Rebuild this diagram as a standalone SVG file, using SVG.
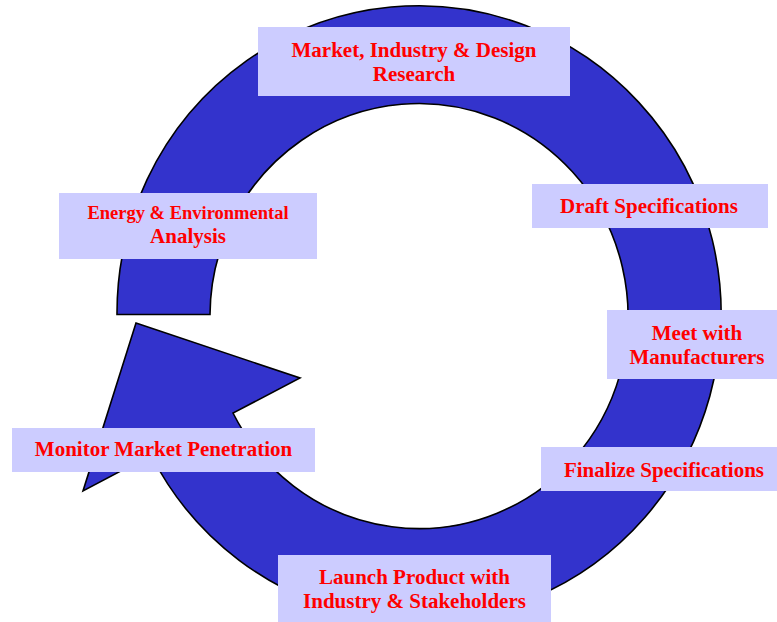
<svg xmlns="http://www.w3.org/2000/svg" width="777" height="622" viewBox="0 0 777 622">
<style>
.box{fill:#CCCCFF;stroke:none}
.t{font-family:"Liberation Serif","Times New Roman",serif;font-weight:bold;font-size:21px;fill:#FF0000;text-anchor:middle}
.ring{fill:#3333CC;stroke:#000000;stroke-width:1.6;stroke-linejoin:miter}
</style>
<rect width="777" height="622" fill="#FFFFFF"/>
<g id="connectors">
<path class="ring" d="M117,314.5 A302,307.5 0 1 1 151,455 L83,491 L136,323 L300,378 L233,413 A209,212.5 0 1 0 210,314.5 Z"/>
</g>
<g id="research">
<rect class="box" x="258" y="27" width="312" height="69"/>
<text class="t" x="414" y="57">Market, Industry &amp; Design</text>
<text class="t" x="414" y="81">Research</text>
</g>
<g id="draft">
<rect class="box" x="532" y="184" width="236" height="44"/>
<text class="t" x="649" y="213">Draft Specifications</text>
</g>
<g id="meet">
<rect class="box" x="607" y="310" width="170" height="69"/>
<text class="t" x="697" y="340">Meet with</text>
<text class="t" x="697" y="364">Manufacturers</text>
</g>
<g id="finalize">
<rect class="box" x="541" y="447" width="236" height="44"/>
<text class="t" x="664" y="477">Finalize Specifications</text>
</g>
<g id="launch">
<rect class="box" x="278" y="555" width="273" height="67"/>
<text class="t" x="414.5" y="584">Launch Product with</text>
<text class="t" x="414.5" y="608">Industry &amp; Stakeholders</text>
</g>
<g id="monitor">
<rect class="box" x="12" y="428" width="303" height="44"/>
<text class="t" x="163.5" y="456">Monitor Market Penetration</text>
</g>
<g id="energy">
<rect class="box" x="59" y="193" width="258" height="66"/>
<text class="t" x="188" y="219" style="font-size:18.5px">Energy &amp; Environmental</text>
<text class="t" x="188" y="243">Analysis</text>
</g>
</svg>
